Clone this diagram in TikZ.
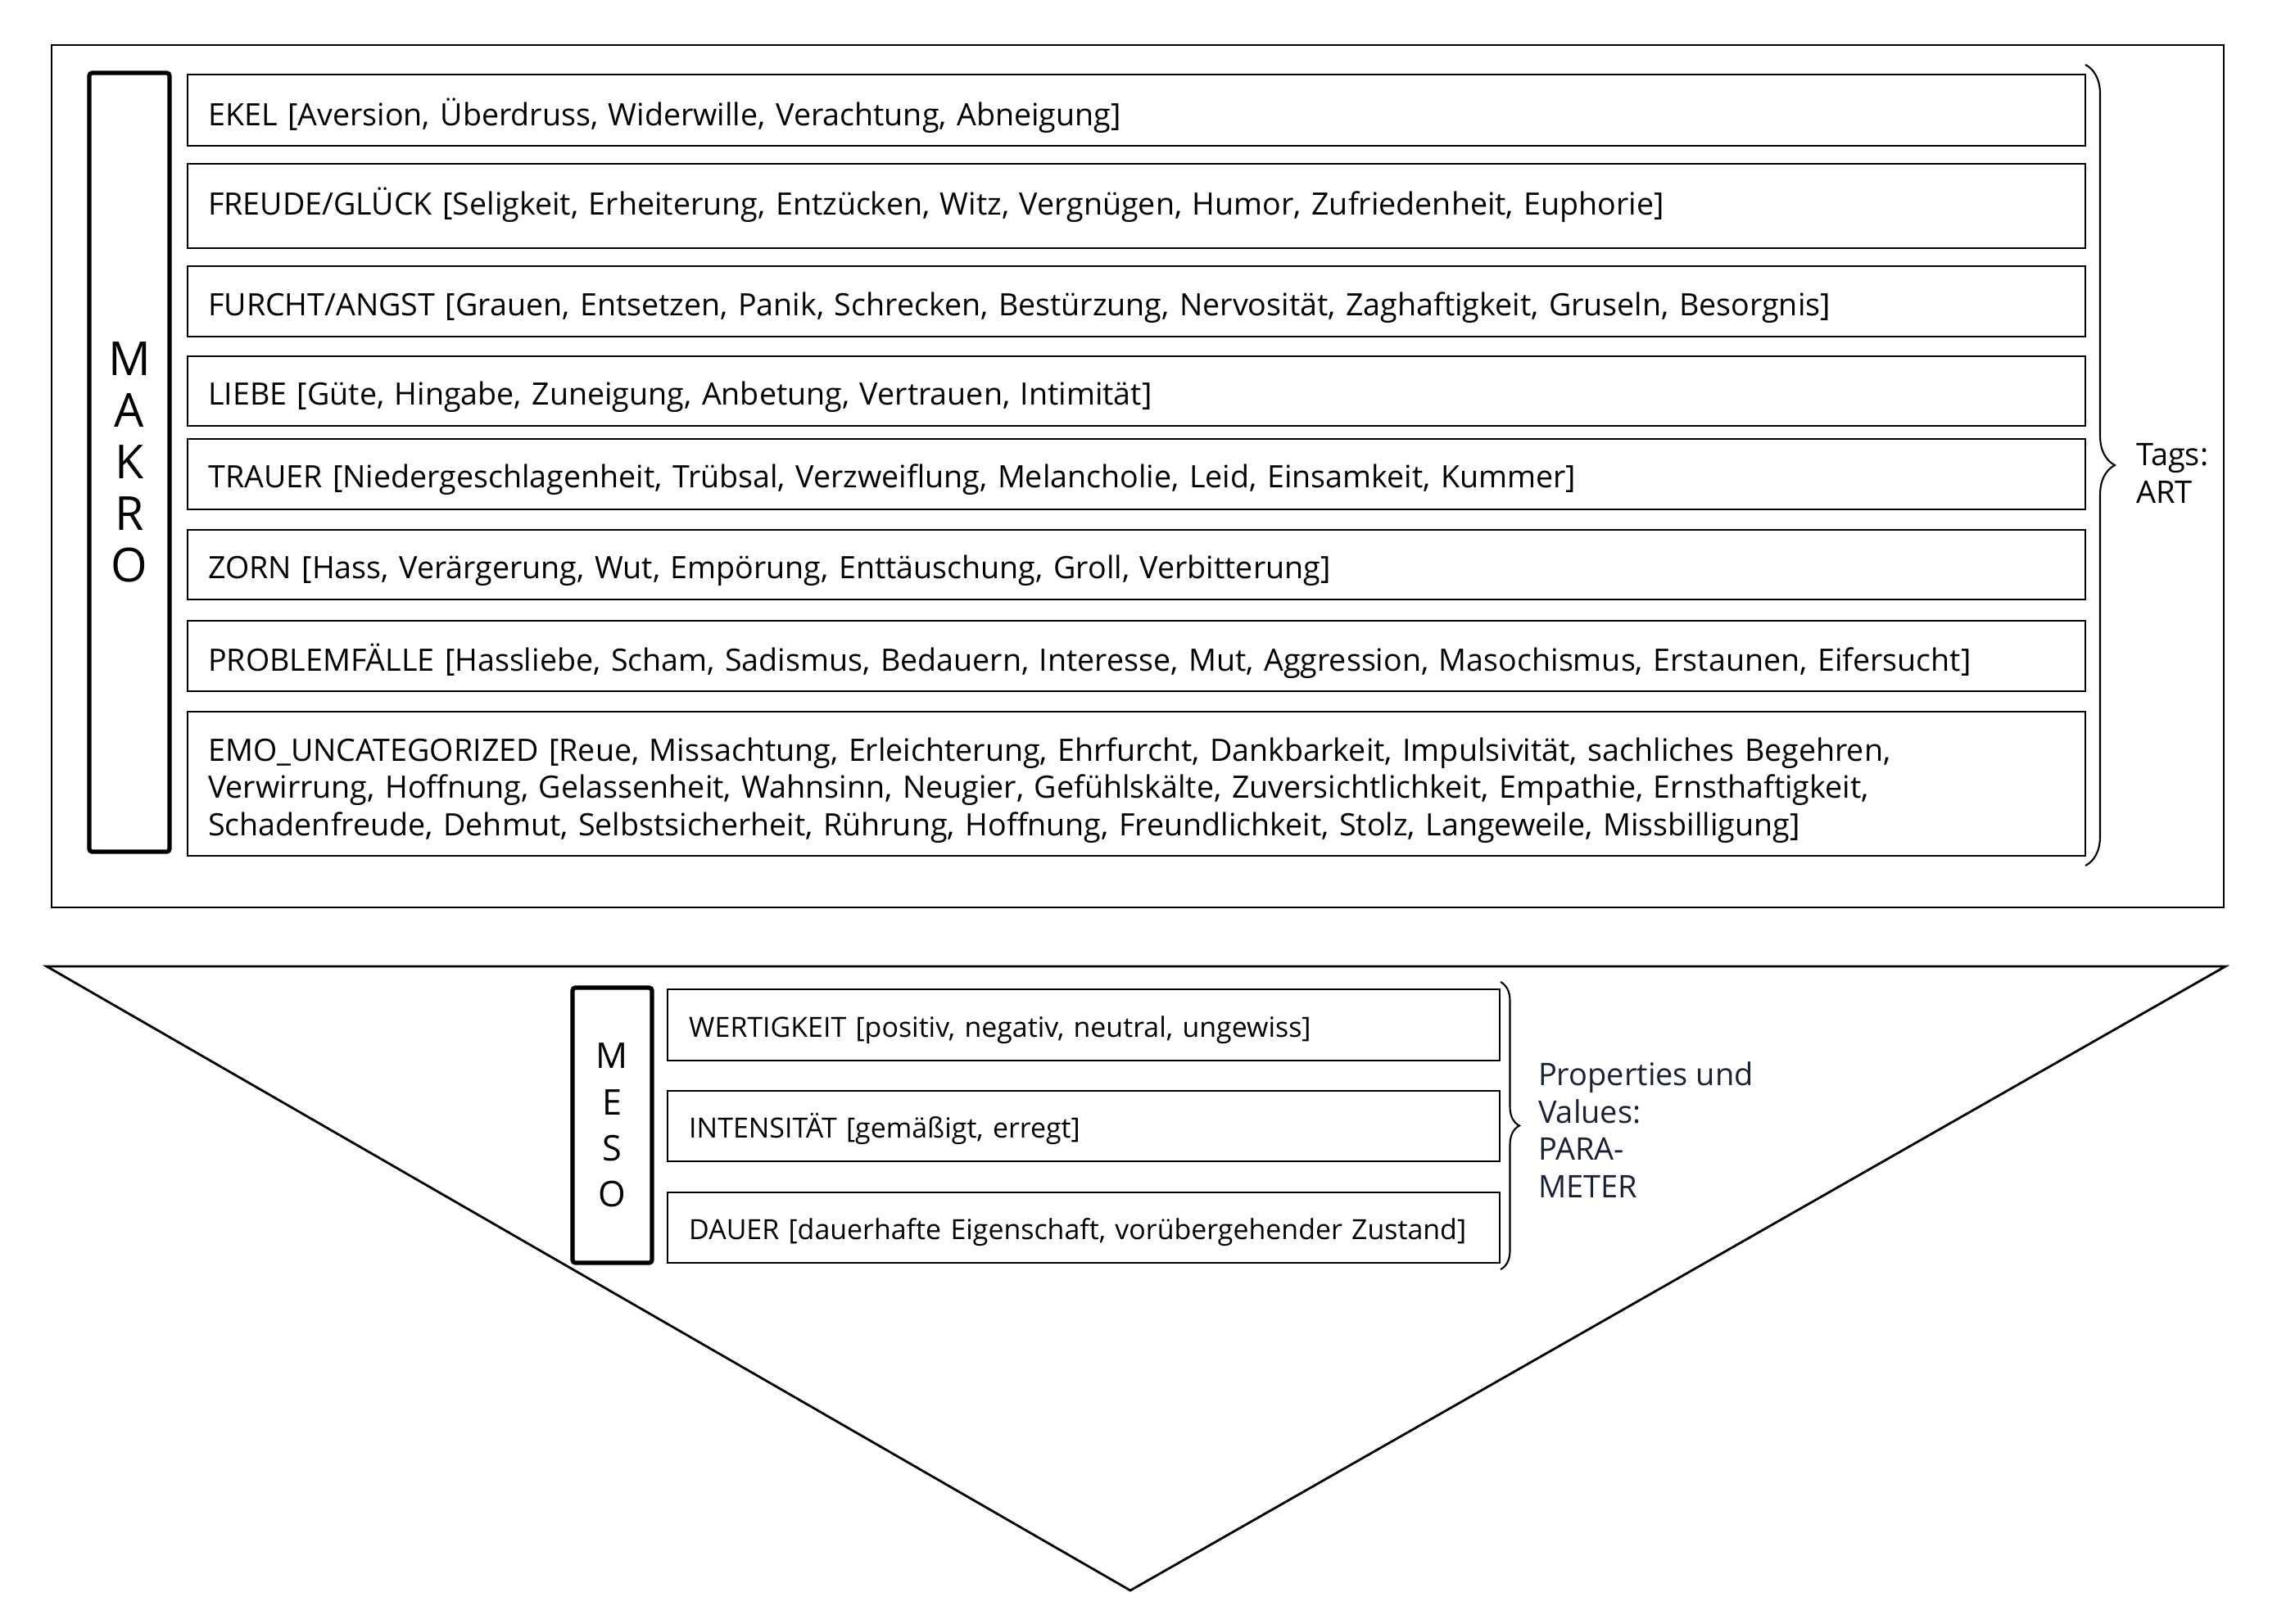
\documentclass[tikz,border=0pt]{standalone}
\usepackage{fontspec}
\setmainfont{Open Sans}
\usetikzlibrary{decorations.pathreplacing}

\definecolor{parablau}{RGB}{24,33,56}

\tikzset{
  eintrag/.style={draw, line width=0.7pt, anchor=north west, inner xsep=0.25cm, inner ysep=0pt,
    text width=22.67cm, align=left, font=\fontsize{10.7pt}{13pt}\selectfont},
  mesoeintrag/.style={eintrag, inner xsep=0.26cm, text width=9.64cm, font=\fontsize{9.65pt}{11.5pt}\selectfont},
  ebene/.style={draw, line width=1.5pt, rounded corners=1pt, inner sep=0pt, align=center},
  klammer/.style={decorate, line width=0.6pt},
  klammertext/.style={midway, anchor=west, inner sep=0pt, align=left, font=\fontsize{10.8pt}{13pt}\selectfont},
}

\begin{document}
\begin{tikzpicture}
            \useasboundingbox (0,0) rectangle (27.80,-19.82);

            % Rahmen MAKRO
            \draw[line width=0.7pt] (0.63,-0.55) rectangle (27.15,-11.08);
            \node[ebene, minimum width=0.98cm, minimum height=9.51cm, font=\fontsize{16.3pt}{17.9pt}\selectfont] (makro) at (1.58,-5.645) {M\\A\\K\\R\\O};

            % Kategorien
            \node[eintrag, text height=0.62cm, text depth=0.25cm] (ekel) at (2.28,-0.90) {EKEL [Aversion, Überdruss, Widerwille, Verachtung, Abneigung]};
            \node[eintrag, text height=0.62cm, text depth=0.41cm] (freude) at (2.28,-1.99) {FREUDE/GLÜCK [Seligkeit, Erheiterung, Entzücken, Witz, Vergnügen, Humor, Zufriedenheit, Euphorie]};
            \node[eintrag, text height=0.60cm, text depth=0.26cm] (furcht) at (2.28,-3.24) {FURCHT/ANGST [Grauen, Entsetzen, Panik, Schrecken, Bestürzung, Nervosität, Zaghaftigkeit, Gruseln, Besorgnis]};
            \node[eintrag, text height=0.59cm, text depth=0.26cm] (liebe) at (2.28,-4.34) {LIEBE [Güte, Hingabe, Zuneigung, Anbetung, Vertrauen, Intimität]};
            \node[eintrag, text height=0.59cm, text depth=0.27cm] (trauer) at (2.28,-5.35) {TRAUER [Niedergeschlagenheit, Trübsal, Verzweiflung, Melancholie, Leid, Einsamkeit, Kummer]};
            \node[eintrag, text height=0.59cm, text depth=0.26cm] (zorn) at (2.28,-6.46) {ZORN [Hass, Verärgerung, Wut, Empörung, Enttäuschung, Groll, Verbitterung]};
            \node[eintrag, text height=0.61cm, text depth=0.25cm] (problem) at (2.28,-7.57) {PROBLEMFÄLLE [Hassliebe, Scham, Sadismus, Bedauern, Interesse, Mut, Aggression, Masochismus, Erstaunen, Eifersucht]};
            \node[eintrag, text height=0.60cm, text depth=1.16cm] (emo) at (2.28,-8.68) {EMO\_UNCATEGORIZED [Reue, Missachtung, Erleichterung, Ehrfurcht, Dankbarkeit, Impulsivität, sachliches Begehren,\\
                Verwirrung, Hoffnung, Gelassenheit, Wahnsinn, Neugier, Gefühlskälte, Zuversichtlichkeit, Empathie, Ernsthaftigkeit,\\
                Schadenfreude, Dehmut, Selbstsicherheit, Rührung, Hoffnung, Freundlichkeit, Stolz, Langeweile, Missbilligung]};

            % Klammer Tags
            \draw[klammer, decoration={brace, amplitude=0.36cm}] (25.46,-0.79) -- (25.46,-10.57)
                node[klammertext, xshift=0.61cm, yshift=-0.1cm] (tags) {Tags:\\ART};

            % Dreieck MESO
            \draw[line width=0.8pt] (0.57,-11.80) -- (27.17,-11.80) -- (13.80,-19.42) -- cycle;
            \node[ebene, minimum width=0.97cm, minimum height=3.36cm, font=\fontsize{12.3pt}{16pt}\selectfont] (meso) at (7.475,-13.74) {M\\E\\S\\O};

            % Parameter
            \node[mesoeintrag, text height=0.58cm, text depth=0.29cm] (wert) at (8.14,-12.07) {WERTIGKEIT [positiv, negativ, neutral, ungewiss]};
            \node[mesoeintrag, text height=0.57cm, text depth=0.29cm] (intens) at (8.14,-13.31) {INTENSITÄT [gemäßigt, erregt]};
            \node[mesoeintrag, text height=0.57cm, text depth=0.29cm] (dauer) at (8.14,-14.55) {DAUER [dauerhafte Eigenschaft, vorübergehender Zustand]};

            % Klammer Parameter
            \draw[klammer, decoration={brace, amplitude=0.23cm}] (18.32,-11.99) -- (18.32,-15.50)
                node[klammertext, xshift=0.45cm, yshift=-0.05cm, text=parablau] (para) {Properties und\\Values:\\PARA-\\METER};
        \end{tikzpicture}
\end{document}
